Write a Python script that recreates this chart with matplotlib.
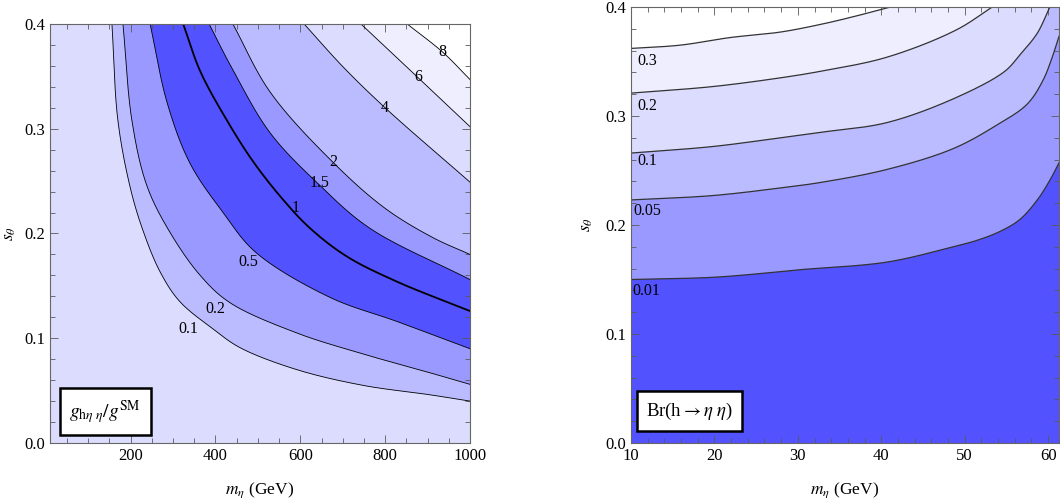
import numpy as np
import matplotlib.pyplot as plt
from matplotlib.ticker import MultipleLocator, FormatStrFormatter

plt.rcParams['font.family'] = ['Liberation Serif', 'DejaVu Serif']
plt.rcParams['mathtext.fontset'] = 'stix'

# --- left panel: g_h eta eta / g^SM contours (m_eta in GeV, s_theta) ---
g_levels = ['0.1', '0.2', '0.5', '1', '1.5', '2', '4', '6', '8']

m_g01 = [156, 170, 199, 229, 270, 316, 394, 458, 592, 748, 906, 1000]
s_g01 = [0.400, 0.308, 0.244, 0.203, 0.163, 0.135, 0.109, 0.091, 0.070, 0.055, 0.046, 0.040]
m_g02 = [182, 203, 238, 290, 364, 434, 592, 748, 906, 1000]
s_g02 = [0.400, 0.308, 0.246, 0.203, 0.160, 0.134, 0.105, 0.085, 0.067, 0.056]
m_g05 = [246, 286, 340, 418, 495, 670, 828, 1000]
s_g05 = [0.400, 0.325, 0.267, 0.220, 0.182, 0.139, 0.116, 0.090]
m_g1 = [324, 364, 427, 490, 560, 623, 710, 828, 1000]
s_g1 = [0.400, 0.355, 0.308, 0.268, 0.232, 0.205, 0.178, 0.154, 0.126]
m_g15 = [385, 440, 529, 646, 764, 1000]
s_g15 = [0.400, 0.357, 0.296, 0.246, 0.205, 0.156]
m_g2 = [441, 529, 677, 800, 913, 1000]
s_g2 = [0.400, 0.335, 0.268, 0.224, 0.196, 0.180]
m_g4 = [609, 701, 800, 1000]
s_g4 = [0.400, 0.359, 0.320, 0.249]
m_g6 = [743, 877, 1000]
s_g6 = [0.400, 0.349, 0.302]
m_g8 = [852, 936, 1000]
s_g8 = [0.400, 0.373, 0.347]

lab_g_m = [335, 399, 477, 588, 646, 677, 800, 877, 936]
lab_g_s = [0.109, 0.128, 0.173, 0.224, 0.248, 0.268, 0.320, 0.349, 0.373]

# --- right panel: Br(h -> eta eta) contours ---
br_levels = ['0.01', '0.05', '0.1', '0.2', '0.3']

m_br001 = [10.0, 19.8, 26.3, 30.3, 40.7, 48.6, 51.5, 54.2, 56.6, 58.7, 60.2, 61.3]
br001 = [0.150, 0.152, 0.156, 0.159, 0.166, 0.180, 0.186, 0.194, 0.205, 0.223, 0.241, 0.257]
m_br005 = [10.0, 19.8, 27.9, 32.7, 40.7, 48.6, 53.7, 57.5, 59.4, 60.4, 61.3]
br005 = [0.223, 0.227, 0.234, 0.239, 0.251, 0.270, 0.291, 0.311, 0.333, 0.352, 0.373]
m_br01 = [10.0, 19.8, 27.9, 32.7, 40.7, 49.0, 54.8, 56.6, 58.7, 60.2]
br01 = [0.266, 0.272, 0.280, 0.285, 0.294, 0.317, 0.341, 0.356, 0.376, 0.400]
m_br02 = [10.0, 19.8, 27.9, 32.7, 40.7, 49.0, 53.3]
br02 = [0.321, 0.327, 0.335, 0.341, 0.354, 0.379, 0.400]
m_br03 = [10.0, 15.9, 21.9, 27.9, 32.7, 36.6, 41.1]
br03 = [0.362, 0.365, 0.372, 0.377, 0.384, 0.391, 0.400]

lab_br_m = [11.8, 11.9, 11.9, 11.9, 11.9]
lab_br_s = [0.139, 0.213, 0.259, 0.309, 0.350]

# band colours (region above each contour)
g_base = '#dcdcff'
g_bands = ['#bbbbff', '#9999ff', '#5252ff', '#5252ff', '#9999ff', '#bbbbff', '#dcdcff', '#eeeeff', '#ffffff']
br_base = '#5252ff'
br_bands = ['#9999ff', '#bbbbff', '#dcdcff', '#eeeeff', '#ffffff']


def smooth(xs, ys, xlim, n=24):
    # centripetal Catmull-Rom through the read points, in axes-fraction space
    sx = xlim[1] - xlim[0]
    P = np.column_stack([(np.array(xs, float) - xlim[0]) / sx, np.array(ys, float) / 0.4])
    P = np.vstack([2 * P[0] - P[1], P, 2 * P[-1] - P[-2]])
    out = []
    for i in range(1, len(P) - 2):
        p0, p1, p2, p3 = P[i - 1], P[i], P[i + 1], P[i + 2]
        t0 = 0.0
        t1 = t0 + np.linalg.norm(p1 - p0) ** 0.5
        t2 = t1 + np.linalg.norm(p2 - p1) ** 0.5
        t3 = t2 + np.linalg.norm(p3 - p2) ** 0.5
        t = np.linspace(t1, t2, n, endpoint=False)[:, None]
        a1 = (t1 - t) / (t1 - t0) * p0 + (t - t0) / (t1 - t0) * p1
        a2 = (t2 - t) / (t2 - t1) * p1 + (t - t1) / (t2 - t1) * p2
        a3 = (t3 - t) / (t3 - t2) * p2 + (t - t2) / (t3 - t2) * p3
        b1 = (t2 - t) / (t2 - t0) * a1 + (t - t0) / (t2 - t0) * a2
        b2 = (t3 - t) / (t3 - t1) * a2 + (t - t1) / (t3 - t1) * a3
        out.append((t2 - t) / (t2 - t1) * b1 + (t - t1) / (t2 - t1) * b2)
    out.append(P[-2][None, :])
    Q = np.vstack(out)
    return Q[:, 0] * sx + xlim[0], Q[:, 1] * 0.4


def draw_panel(ax, curves, bands, base, texts, lab_x, lab_y, xlim, widths, lcolor):
    ax.set_facecolor(base)
    paths = [smooth(xs, ys, xlim) for xs, ys in curves]
    for (xs, ys), col in zip(paths, bands):
        px = list(xs) + [xs[-1], xs[0]]
        py = list(ys) + [0.4, 0.4]
        ax.fill(px, py, color=col, lw=0, zorder=1)
    for (xs, ys), w in zip(paths, widths):
        ax.plot(xs, ys, color=lcolor, lw=w, zorder=2)
    for t, x, y in zip(texts, lab_x, lab_y):
        ax.text(x, y, t, fontsize=11.5, ha='center', va='center', zorder=3)
    ax.set_xlim(*xlim)
    ax.set_ylim(0, 0.4)
    ax.yaxis.set_major_locator(MultipleLocator(0.1))
    ax.yaxis.set_minor_locator(MultipleLocator(0.02))
    ax.yaxis.set_major_formatter(FormatStrFormatter('%.1f'))
    ax.tick_params(which='both', direction='in', top=True, right=True,
                   color='0.35', width=0.6, labelsize=12)
    ax.tick_params(which='major', length=6)
    ax.tick_params(which='minor', length=3.5)
    for sp in ax.spines.values():
        sp.set_color('0.4')
        sp.set_linewidth(0.8)
    ax.set_xlabel(r'$m_\eta$ (GeV)', fontsize=12.5)
    ax.set_ylabel(r'$s_\theta$', fontsize=12.5)


fig = plt.figure(figsize=(10.6, 5.01), dpi=100)
ax1 = fig.add_axes([50 / 1060, 58 / 501, 420 / 1060, 419 / 501])
ax2 = fig.add_axes([631 / 1060, 58 / 501, 428 / 1060, 436 / 501])

g_curves = [(m_g01, s_g01), (m_g02, s_g02), (m_g05, s_g05), (m_g1, s_g1), (m_g15, s_g15),
            (m_g2, s_g2), (m_g4, s_g4), (m_g6, s_g6), (m_g8, s_g8)]
g_widths = [0.6, 0.6, 0.6, 1.3, 0.6, 0.6, 0.6, 0.6, 0.6]
draw_panel(ax1, g_curves, g_bands, g_base, g_levels, lab_g_m, lab_g_s,
           (10, 1000), g_widths, 'black')
ax1.xaxis.set_major_locator(MultipleLocator(200))
ax1.xaxis.set_minor_locator(MultipleLocator(50))
ax1.yaxis.set_label_coords(-0.076, 0.5)
ax1.xaxis.set_label_coords(0.5, -0.089)

br_curves = [(m_br001, br001), (m_br005, br005), (m_br01, br01), (m_br02, br02), (m_br03, br03)]
draw_panel(ax2, br_curves, br_bands, br_base, br_levels, lab_br_m, lab_br_s,
           (10, 61.3), [0.9] * 5, '0.2')
ax2.xaxis.set_major_locator(MultipleLocator(10))
ax2.xaxis.set_minor_locator(MultipleLocator(2))
ax2.yaxis.set_label_coords(-0.085, 0.5)
ax2.xaxis.set_label_coords(0.5, -0.086)

box = dict(boxstyle='square,pad=0.5', facecolor='white', edgecolor='black', linewidth=1.8)
ax1.text(0.131, 0.075, r'$g_{\mathrm{h}\eta\ \eta}/g^{\mathrm{SM}}$', transform=ax1.transAxes,
         fontsize=14, ha='center', va='center', bbox=box, zorder=5)
ax2.text(0.137, 0.073, r'Br(h$\rightarrow\eta\ \eta$)', transform=ax2.transAxes,
         fontsize=13.5, ha='center', va='center', bbox=box, zorder=5)

fig.savefig('out.png', dpi=100)
